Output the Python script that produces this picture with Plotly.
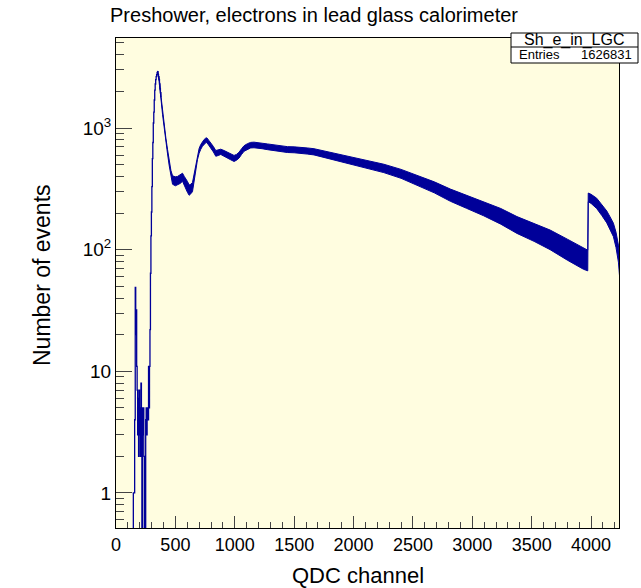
import plotly.graph_objects as go

# ---------------- data ----------------
# sparse low-QDC region + rise into the preshower peak (step histogram)
low_channel = [130, 140, 146, 152, 157, 162, 166, 170, 174, 178, 182, 186, 190, 194,
               198, 202, 206, 210, 214, 218, 222, 226, 230, 234, 238, 242, 246,
               250, 254, 258, 262, 266, 270, 274, 278, 282, 286, 290, 294, 298,
               302, 306, 310, 314, 318, 322, 326, 330, 334, 338, 342, 346, 350,
               354, 358, 362, 366, 370, 374, 378]
low_counts = [0, 0, 1, 1, 4, 49, 20, 32, 11, 7, 3, 6, 2, 7,
              3, 5, 2, 8, 5, 0, 5, 3, 5, 2, 0, 2, 0,
              4, 5, 3, 4, 5, 4, 11, 5, 11, 22, 64, 130, 204,
              330, 560, 760, 1100, 1350, 1700, 2050, 2300, 2500, 2650, 2750, 2850, 2900,
              2750, 2650, 2500, 2300, 2100, 1950, 1800]

# main spectrum: lower / upper edge of the (noisy) histogram band
band_channel = [350, 364, 378, 392, 406, 420, 434, 448, 462, 476, 500, 518, 540, 560,
                575, 588, 602, 616, 630, 644, 654, 664, 675, 686, 700, 714, 728, 742,
                755, 765, 780, 798, 820, 840, 860, 882, 910, 938, 966, 994, 1015, 1036,
                1057, 1078, 1106, 1134, 1162, 1190, 1230, 1275, 1320, 1359, 1400, 1443,
                1500, 1555, 1610, 1667, 1720, 1779, 1835, 1891, 1950, 2003, 2100, 2255,
                2400, 2535, 2680, 2815, 2950, 3095, 3240, 3376, 3520, 3655, 3800, 3936,
                3972, 3976, 4000, 4047, 4090, 4132, 4160, 4188, 4210, 4230, 4240]
band_lo = [2850, 2420, 1760, 1290, 990, 765, 612, 490, 400, 345, 335, 340, 350, 365,
           340, 318, 295, 280, 288, 300, 340, 395, 470, 550, 620, 670, 708, 736,
           755, 760, 725, 688, 636, 586, 594, 606, 588, 566, 548, 531, 544, 566,
           606, 644, 668, 686, 688, 686, 676, 664, 653, 643, 636, 629,
           626, 622, 611, 601, 584, 563, 544, 526, 509, 494, 469, 430,
           386, 339, 293, 250, 219, 190, 162, 136, 117, 100, 82, 69,
           67, 248, 240, 218, 191, 166, 147, 128, 104, 79, 60]
band_hi = [2950, 2530, 1850, 1360, 1055, 825, 665, 540, 450, 405, 397, 400, 410, 425,
           400, 385, 363, 340, 345, 357, 400, 455, 530, 610, 680, 733, 773, 805,
           825, 830, 795, 757, 705, 653, 657, 670, 653, 631, 613, 595, 607, 632,
           675, 715, 743, 762, 765, 762, 750, 740, 728, 717, 710, 703,
           700, 696, 686, 676, 658, 635, 617, 599, 582, 567, 543, 504,
           457, 410, 361, 315, 281, 249, 218, 187, 164, 145, 122, 104,
           99, 292, 285, 265, 235, 208, 186, 165, 139, 109, 88]

x_ticks = [0, 500, 1000, 1500, 2000, 2500, 3000, 3500, 4000]
y_ticks = [1, 10, 100, 1000]
y_ticktext = ["1", "10", "10<sup>2</sup>", "10<sup>3</sup>"]

hist_name = "Sh_e_in_LGC"
entries = 1626831

# ---------------- figure ----------------
LINE = "#000099"
FONT = "Liberation Sans, Arial, Helvetica, sans-serif"

W, H = 641, 588
L, R, T, B = 116, 619, 38, 528   # plot-area pixel box


def px(x):
    return (x - L) / (R - L)


def py(y):
    return (B - y) / (B - T)


fig = go.Figure()

# band (noise envelope) of the main spectrum
fig.add_trace(go.Scatter(
    x=band_channel + band_channel[::-1],
    y=band_hi + band_lo[::-1],
    fill="toself", fillcolor=LINE, mode="lines",
    line=dict(color=LINE, width=1), hoverinfo="skip", showlegend=False,
))

# sparse low region drawn as histogram steps (empty bins drop off the axis)
fig.add_trace(go.Scatter(
    x=low_channel,
    y=[c if c > 0 else 0.2 for c in low_counts],
    mode="lines", line=dict(color=LINE, width=1.3, shape="hv"),
    showlegend=False,
))

minor_y = [m * 10 ** d for d in range(-1, 4) for m in range(2, 10)]

fig.update_layout(
    width=W, height=H,
    margin=dict(l=L, r=W - R, t=T, b=H - B, pad=0),
    paper_bgcolor="white",
    plot_bgcolor="#FFFDE0",
    font=dict(family=FONT, color="black"),
    showlegend=False,
    title=dict(text="Preshower, electrons in lead glass calorimeter",
               x=314 / W, xanchor="center", y=1 - 15 / H, yanchor="middle",
               font=dict(size=20, family=FONT)),
    xaxis=dict(
        range=[0, 4235], showgrid=False, zeroline=False,
        showline=True, linecolor="black", linewidth=1, mirror=True,
        ticks="inside", ticklen=12, tickcolor="#444", tickwidth=1,
        tickvals=x_ticks, tickfont=dict(size=18),
        minor=dict(ticks="inside", ticklen=6, dtick=100, tick0=0,
                   tickcolor="#444", showgrid=False),
    ),
    yaxis=dict(
        type="log", range=[-0.288, 3.740], showgrid=False, zeroline=False,
        showline=True, linecolor="black", linewidth=1, mirror=True,
        ticks="inside", ticklen=16, tickcolor="#444", tickwidth=1,
        tickvals=y_ticks, ticktext=y_ticktext, tickfont=dict(size=19),
        minor=dict(ticks="inside", ticklen=8, tickvals=minor_y,
                   tickcolor="#444", showgrid=False),
    ),
)

# axis titles
fig.add_annotation(text="QDC channel", xref="paper", yref="paper",
                   x=px(358), y=py(575), showarrow=False,
                   font=dict(size=22, family=FONT), xanchor="center", yanchor="middle")
fig.add_annotation(text="Number of events", xref="paper", yref="paper",
                   x=px(42), y=py(275), showarrow=False, textangle=-90,
                   font=dict(size=23, family=FONT), xanchor="center", yanchor="middle")

# statistics box
bx0, bx1, by0, by1, bsep = 511, 638, 33, 63, 47
fig.add_shape(type="rect", xref="paper", yref="paper",
              x0=px(bx0), x1=px(bx1), y0=py(by1), y1=py(by0),
              line=dict(color="black", width=1), fillcolor="white", layer="above")
fig.add_shape(type="line", xref="paper", yref="paper",
              x0=px(bx0), x1=px(bx1), y0=py(bsep), y1=py(bsep),
              line=dict(color="black", width=1), layer="above")
fig.add_annotation(text=hist_name, xref="paper", yref="paper",
                   x=px((bx0 + bx1) / 2), y=py((by0 + bsep) / 2 + 0.5), showarrow=False,
                   font=dict(size=16, family=FONT), xanchor="center", yanchor="middle")
fig.add_annotation(text="Entries", xref="paper", yref="paper",
                   x=px(bx0 + 6), y=py((bsep + by1) / 2), showarrow=False,
                   font=dict(size=13, family=FONT), xanchor="left", yanchor="middle")
fig.add_annotation(text=f"{entries}", xref="paper", yref="paper",
                   x=px(bx1 - 4), y=py((bsep + by1) / 2), showarrow=False,
                   font=dict(size=13, family=FONT), xanchor="right", yanchor="middle")

fig.write_html("out.html", config={"displayModeBar": False},
               post_script="document.body.style.margin='0px';")
